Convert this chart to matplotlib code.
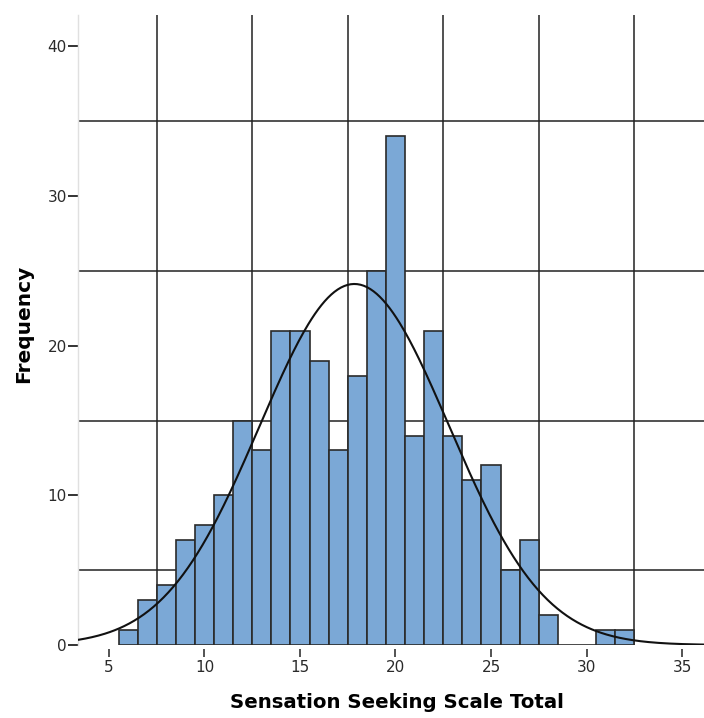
import numpy as np
import matplotlib
matplotlib.use("Agg")
import matplotlib.pyplot as plt

plt.rcParams['font.family'] = ['DejaVu Sans']

bin_centers = [6, 7, 8, 9, 10, 11, 12, 13, 14, 15, 16, 17, 18, 19, 20,
               21, 22, 23, 24, 25, 26, 27, 28, 29, 30, 31, 32]
frequencies = [1, 3, 4, 7, 8, 10, 15, 13, 21, 21, 19, 13, 18, 25, 34,
               14, 21, 14, 11, 12, 5, 7, 2, 0, 0, 1, 1]
x_ticks = [5, 10, 15, 20, 25, 30, 35]
y_ticks = [0, 10, 20, 30, 40]
x_grid = [7.5, 12.5, 17.5, 22.5, 27.5, 32.5]
y_grid = [5, 15, 25, 35]

centers = np.array(bin_centers, dtype=float)
freq = np.array(frequencies, dtype=float)
n = freq.sum()
mean = (centers * freq).sum() / n
sd = np.sqrt(((centers - mean) ** 2 * freq).sum() / (n - 1))

fig = plt.figure(figsize=(7.04, 7.18), dpi=100)
ax = fig.add_axes([0.1108, 0.1017, 0.8892, 0.8773])

ax.bar(centers, freq, width=1.0, color='#7BA8D6', edgecolor='#2a2a2a',
       linewidth=1.2, zorder=2)

xs = np.linspace(3.0, 37.0, 400)
pdf = n * 1.0 / (sd * np.sqrt(2 * np.pi)) * np.exp(-0.5 * ((xs - mean) / sd) ** 2)
ax.plot(xs, pdf, color='#111111', linewidth=1.5, zorder=3)

ax.set_xlim(3.38, 36.15)
ax.set_ylim(0, 42.1)

ax.set_xticks(x_ticks)
ax.set_yticks(y_ticks)
ax.set_xticks(x_grid, minor=True)
ax.set_yticks(y_grid, minor=True)
ax.grid(which='minor', color='#222222', linewidth=1.1, zorder=0)
ax.grid(which='major', visible=False)
ax.set_axisbelow(True)

ax.tick_params(which='minor', length=0)
ax.tick_params(axis='y', which='major', length=7, width=1.3, color='#222222',
               labelsize=11, labelcolor='#2a2a2a', pad=1)
ax.tick_params(axis='x', which='major', length=6, width=1.3, color='#444444',
               labelsize=11, labelcolor='#2a2a2a', pad=2)

for s in ['top', 'right']:
    ax.spines[s].set_visible(False)
ax.spines['bottom'].set_position(('outward', 3))
ax.spines['bottom'].set_visible(False)
ax.spines['left'].set_color('#e0e0e0')
ax.spines['left'].set_linewidth(1.0)

ax.set_xlabel('Sensation Seeking Scale Total', fontsize=14.2, fontweight='bold')
ax.set_ylabel('Frequency', fontsize=14.5, fontweight='bold')
ax.xaxis.set_label_coords(0.51, -0.076)
ax.yaxis.set_label_coords(-0.072, 0.51)

fig.savefig('out.png', dpi=100)
